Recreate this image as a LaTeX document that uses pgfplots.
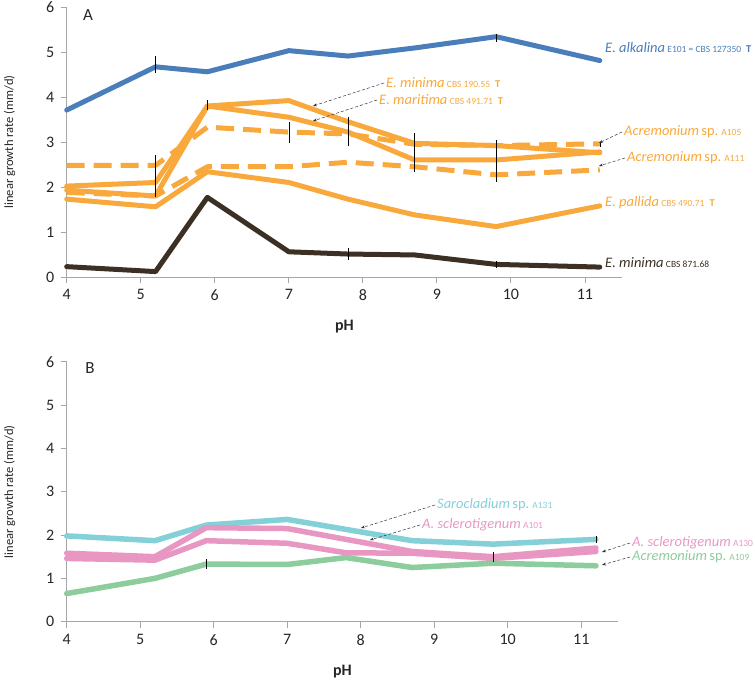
\documentclass[border=0pt]{standalone}
\usepackage{fontspec}
\setmainfont{Carlito}
\usepackage{pgfplots}
\pgfplotsset{compat=1.18}
\usetikzlibrary{arrows.meta}

\definecolor{cblue}{HTML}{4A7EBB}
\definecolor{corange}{HTML}{F9A83C}
\definecolor{cdark}{HTML}{3B3023}
\definecolor{ccyan}{HTML}{84D0D8}
\definecolor{cpink}{HTML}{E897C3}
\definecolor{cgreen}{HTML}{8DCC9C}
\definecolor{axisgray}{HTML}{A6A6A6}
\definecolor{tickcol}{HTML}{262626}

\pgfplotsset{
  panel/.style={
    scale only axis,
    xmin=4, xmax=11.5, ymin=0, ymax=6,
    xtick={4,...,11}, ytick={0,...,6},
    axis x line*=bottom, axis y line*=left,
    axis line style={draw=axisgray, line width=0.9pt, -},
    tick style={draw=axisgray, line width=0.9pt},
    tick align=outside, major tick length=6pt,
    tick label style={font=\fontsize{16}{19}\selectfont, text=tickcol},
    xticklabel style={yshift=-3pt},
    yticklabel style={xshift=-3pt},
    /pgf/number format/assume math mode=true,
    xlabel={pH},
    xlabel style={font=\fontsize{16}{19}\selectfont\bfseries, text=tickcol,
      at={(axis description cs:0.5,0)}, anchor=center, yshift=-50pt},
    ylabel={linear growth rate (mm/d)},
    ylabel style={font=\fontsize{12.5}{15}\selectfont, text=tickcol,
      at={(axis description cs:0,0.5)}, anchor=center, yshift=57pt},
    clip=false,
    every axis plot/.append style={line join=round, line cap=round},
  },
  ebar/.style={draw=none, forget plot, mark=none,
    error bars/.cd, y dir=both, y explicit,
    error bar style={draw=black, solid, line width=0.5pt, line cap=butt},
    error mark=none},
}

\begin{document}
\begin{tikzpicture}
\path[use as bounding box] (0,0) rectangle (755pt,680pt);

% panel A
\begin{axis}[panel, at={(66.7pt,403pt)}, anchor=south west,
  width=555.3pt, height=270pt]
\addplot[cblue, line width=5pt] coordinates {
  (4,3.71) (5.2,4.67) (5.9,4.56) (7,5.03) (7.8,4.91) (8.7,5.09) (9.8,5.34) (11.2,4.81)};
\addplot[corange, line width=5pt] coordinates {
  (4,2.02) (5.2,2.10) (5.9,3.80) (7,3.92) (7.8,3.45) (8.7,2.97) (9.8,2.92) (11.2,2.76)};
\addplot[corange, line width=5pt] coordinates {
  (4,1.93) (5.2,1.80) (5.9,3.80) (7,3.55) (7.8,3.22) (8.7,2.60) (9.8,2.60) (11.2,2.78)};
\addplot[corange, line width=5pt, line cap=butt, dash pattern=on 18pt off 9pt] coordinates {
  (4,2.48) (5.2,2.48) (5.9,3.33) (7,3.22) (7.8,3.18) (8.7,2.95) (9.8,2.92) (11.2,2.96)};
\addplot[corange, line width=5pt, line cap=butt, dash pattern=on 18pt off 9pt] coordinates {
  (4,1.88) (5.2,1.80) (5.9,2.45) (7,2.45) (7.8,2.55) (8.7,2.45) (9.8,2.27) (11.2,2.38)};
\addplot[corange, line width=5pt] coordinates {
  (4,1.73) (5.2,1.56) (5.9,2.34) (7,2.10) (7.8,1.73) (8.7,1.38) (9.8,1.12) (11.2,1.58)};
\addplot[cdark, line width=5pt] coordinates {
  (4,0.23) (5.2,0.12) (5.9,1.77) (7,0.56) (7.8,0.51) (8.7,0.49) (9.8,0.28) (11.2,0.22)};
\addplot[ebar] coordinates {
  (5.2,4.72) +- (0,0.19)
  (5.2,2.25) +- (0,0.47)
  (5.9,3.82) +- (0,0.11)
  (7,3.21) +- (0,0.24)
  (7.8,3.23) +- (0,0.33)
  (7.8,0.51) +- (0,0.13)
  (8.7,2.77) +- (0,0.43)
  (9.8,2.58) +- (0,0.46)
  (9.8,5.32) +- (0,0.09)
  (9.8,0.27) +- (0,0.08)
  (11.2,2.95) +- (0,0.06)};
\end{axis}

% panel B
\begin{axis}[panel, at={(66.7pt,58.3pt)}, anchor=south west,
  width=551.3pt, height=260pt]
\addplot[ccyan, line width=5.5pt] coordinates {
  (4,1.98) (5.2,1.87) (5.9,2.23) (7,2.36) (7.8,2.13) (8.7,1.87) (9.8,1.79) (11.2,1.90)};
\addplot[cpink, line width=5.5pt] coordinates {
  (4,1.58) (5.2,1.50) (5.9,2.17) (7,2.15) (7.8,1.90) (8.7,1.62) (9.8,1.50) (11.2,1.70)};
\addplot[cpink, line width=5.5pt] coordinates {
  (4,1.46) (5.2,1.42) (5.9,1.87) (7,1.81) (7.8,1.59) (8.7,1.58) (9.8,1.46) (11.2,1.62)};
\addplot[cgreen, line width=5.5pt] coordinates {
  (4,0.65) (5.2,1.00) (5.9,1.33) (7,1.32) (7.8,1.48) (8.7,1.25) (9.8,1.35) (11.2,1.29)};
\addplot[ebar] coordinates {
  (5.9,1.33) +- (0,0.12)
  (9.8,1.50) +- (0,0.12)
  (11.2,1.89) +- (0,0.08)};
\end{axis}

% annotations, in image pixel coordinates (y downwards)
\begin{scope}[x=1pt, y=-1pt, shift={(0pt,680pt)}]
\def\sp#1{{\itshape\fontsize{14.5}{17}\selectfont #1}}
\def\st#1{{\fontsize{9.5}{11}\selectfont #1}}
\def\ty{\hspace{5pt}{\bfseries\fontsize{10.5}{12}\selectfont T}}
\def\up#1{{\fontsize{14.5}{17}\selectfont #1}}
\tikzset{lab/.style={anchor=west, inner sep=0pt},
  arr/.style={densely dashed, line width=0.5pt, draw=black!80, -{Stealth[length=4pt,width=3pt]}}}

\node[font=\fontsize{17}{20}\selectfont, text=tickcol] at (88,15) {A};
\node[font=\fontsize{17}{20}\selectfont, text=tickcol] at (90,368) {B};

\node[lab, text=cblue] at (605,48) {\sp{E. alkalina} \st{E101 = CBS 127350}\ty};
\node[lab, text=corange] at (386,83) {\sp{E. minima} \st{CBS 190.55}\ty};
\node[lab, text=corange] at (379,100) {\sp{E. maritima} \st{CBS 491.71}\ty};
\node[lab, text=corange] at (624,132) {\sp{Acremonium} \up{sp.} \st{A105}};
\node[lab, text=corange] at (627,158) {\sp{Acremonium} \up{sp.} \st{A111}};
\node[lab, text=corange] at (605,203) {\sp{E. pallida} \st{CBS 490.71}\ty};
\node[lab, text=cdark] at (605,263) {\sp{E. minima} \st{CBS 871.68}};
\draw[arr] (384,83) -- (313,106);
\draw[arr] (377,100) -- (313,121);
\draw[arr] (622,132) -- (599,143);
\draw[arr] (625,158) -- (599,166);

\node[lab, text=ccyan] at (437,505) {\sp{Sarocladium} \up{sp.} \st{A131}};
\node[lab, text=cpink] at (422,525) {\sp{A. sclerotigenum} \st{A101}};
\node[lab, text=cpink] at (632,543) {\sp{A. sclerotigenum} \st{A130}};
\node[lab, text=cgreen] at (632,557) {\sp{Acremonium} \up{sp.} \st{A109}};
\draw[arr] (435,505) -- (361,528);
\draw[arr] (420,525) -- (370,540);
\draw[arr] (630,543) -- (602,552);
\draw[arr] (630,557) -- (602,565);
\end{scope}
\end{tikzpicture}
\end{document}
